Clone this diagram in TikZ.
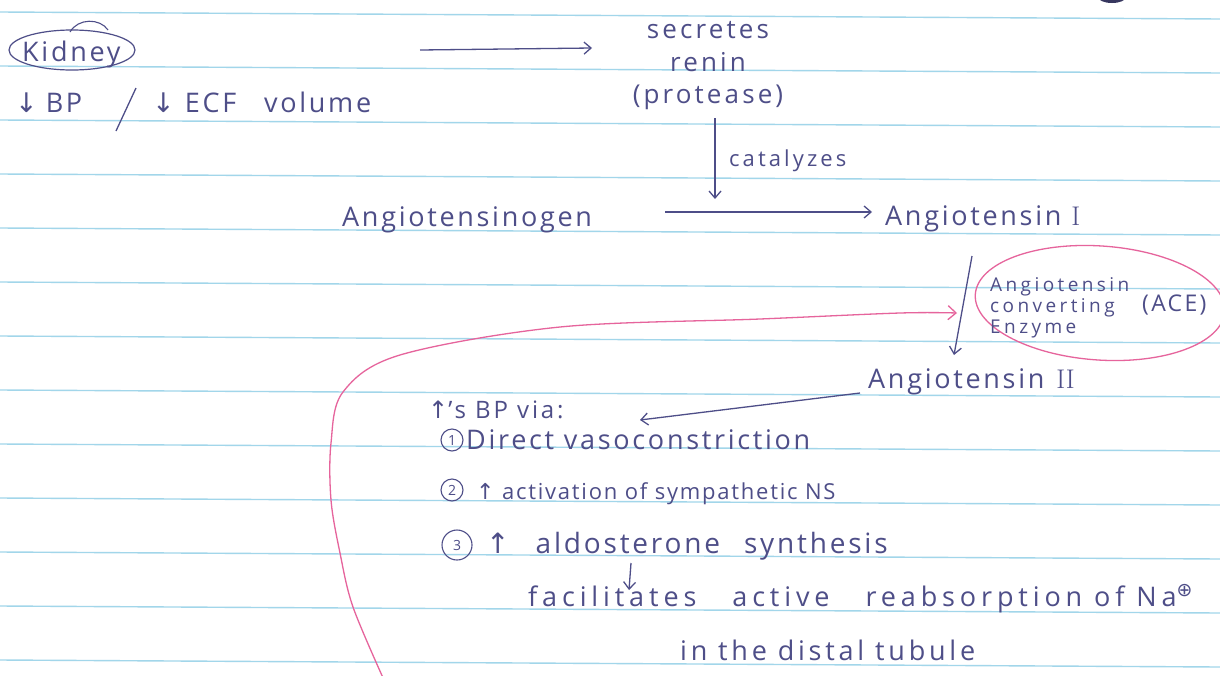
\documentclass[tikz,border=0pt]{standalone}
\usepackage{fontspec}
\setmainfont{Open Sans}
\newfontfamily\sym{DejaVu Sans}
\newfontfamily\lmr{Latin Modern Roman}
\usetikzlibrary{shapes.geometric,arrows.meta}
\definecolor{ink}{HTML}{4E4E88}
\definecolor{pinkink}{HTML}{E6649C}
\definecolor{rulecol}{HTML}{A2D6EA}
\newcommand\hf[3]{\fontsize{#1}{#2}\selectfont\addfontfeatures{LetterSpace=#3}}
\tikzset{
  txt/.style={text=ink, inner sep=0pt, font=\hf{27}{30}{10}},
  conn/.style={draw=ink, line width=1.3pt, -{Straight Barb[length=7pt,width=12pt]}},
  pinkline/.style={draw=pinkink, line width=1.3pt, -{Straight Barb[length=8pt,width=14pt]}},
  numc/.style={circle, draw=ink, line width=1.1pt, inner sep=0pt, minimum size=22pt, text=ink, font=\fontsize{14}{16}\selectfont},
  ring/.style={ellipse, draw=ink, line width=1.2pt}
}
\begin{document}
\begin{tikzpicture}[x=1pt,y=-1pt]
\useasboundingbox (0,0) rectangle (1220,675);
\clip (0,0) rectangle (1220,675);
\fill[white] (0,0) rectangle (1220,675);
\foreach \k in {0,...,12}
  \draw[rulecol, line width=1.4pt] (0,{12+54*\k}) -- (1220,{19+54*\k});
\fill[ink!70!black] (1112,-3) ellipse (14 and 6);

% kidney
\node[txt, anchor=base west] (kidney) at (22,61) {Kidney};
\node[ring, minimum width=126pt, minimum height=40pt] (kidring) at (72,50) {};
\coordinate (kl1) at (70,32);
\coordinate (kl2) at (108,30);
\draw[ink, line width=1.1pt] (kl1) .. controls (78,18) and (100,18) .. (kl2);
\node[txt, anchor=base west] (bp) at (15,112) {{\sym ↓}\hspace{8pt}BP};
\coordinate (sl1) at (136,88);
\coordinate (sl2) at (116,131);
\draw[ink, line width=1.3pt] (sl1) -- (sl2);
\node[txt, anchor=base west] (ecf) at (152,112) {{\sym ↓}\hspace{10pt}ECF\hspace{28pt}volume};

% renin
\node[txt, align=center, font=\hf{26}{32.5}{12}] (renin) at (708,66) {secretes\\renin\\(protease)};
\coordinate (k1) at (420,50);
\coordinate (k2) at (592,48);
\draw[conn] (k1) -- (k2);
\coordinate (c1) at (715,118);
\coordinate (c2) at (715,199);
\draw[conn] (c1) -- (c2);
\node[txt, anchor=base west, font=\hf{22}{25}{14}] (cat) at (729,166) {catalyzes};

% angiotensinogen
\node[txt, anchor=base west] (agen) at (342,226) {Angiotensinogen};
\node[txt, anchor=base west] (ang1) at (885,225) {Angiotensin\hspace{10pt}{\lmr I}};
\coordinate (g1) at (665,212);
\coordinate (g2) at (872,212);
\draw[conn] (g1) -- (g2);

% ACE
\node[ellipse, draw=pinkink, line width=1.3pt, minimum width=250pt, minimum height=114pt, rotate=-4] (acering) at (1100,303) {};
\node[txt, align=left, anchor=west, font=\hf{19}{21}{18}] (acetext) at (990,308) {Angiotensin\\converting\\Enzyme};
\node[txt, anchor=west, font=\hf{23}{26}{10}] (acronym) at (1142,305) {(ACE)};
\coordinate (d1) at (972,256);
\coordinate (d2) at (954,355);
\draw[conn] (d1) -- (d2);

% pink feedback curve
\draw[pinkline] plot[smooth, tension=0.55] coordinates {(384,680) (353,607) (340,553) (331,500) (331,443) (343,392) (400,355) (560,327) (760,319) (900,313) (957,313)};

% angiotensin II
\node[txt, anchor=base west] (ang2) at (868,388) {Angiotensin\hspace{12pt}{\lmr II}};
\coordinate (v1) at (860,393);
\coordinate (v2) at (640,420);
\draw[conn] (v1) -- (v2);
\node[txt, anchor=base west, font=\hf{24}{27}{12}] (via) at (428,418) {{\sym ↑}'s BP via:};

\node[numc] (n1) at (452,440) {1};
\node[txt, anchor=base west, font=\hf{27}{30}{10}] (l1) at (466,449) {Direct vasoconstriction};
\node[numc] (n2) at (452,490) {2};
\node[txt, anchor=base west, font=\hf{22}{25}{8}] (l2) at (476,499) {{\sym ↑} activation of sympathetic NS};
\node[numc, minimum size=30pt] (n3) at (457,545) {3};
\node[txt, anchor=base west, font=\hf{28}{31}{10}] (l3) at (486,553) {{\sym ↑}\hspace{26pt}aldosterone\hspace{24pt}synthesis};
\coordinate (f1) at (631,563);
\coordinate (f2) at (629,590);
\draw[conn] (f1) -- (f2);
\node[txt, anchor=base west, font=\hf{27}{30}{18}] (l4) at (528,606) {facilitates\hspace{36pt}active\hspace{36pt}reabsorption of Na\textsuperscript{\sym ⊕}};
\node[txt, anchor=base west, font=\hf{27}{30}{14}] (l5) at (680,660) {in the distal tubule};
\end{tikzpicture}
\end{document}
